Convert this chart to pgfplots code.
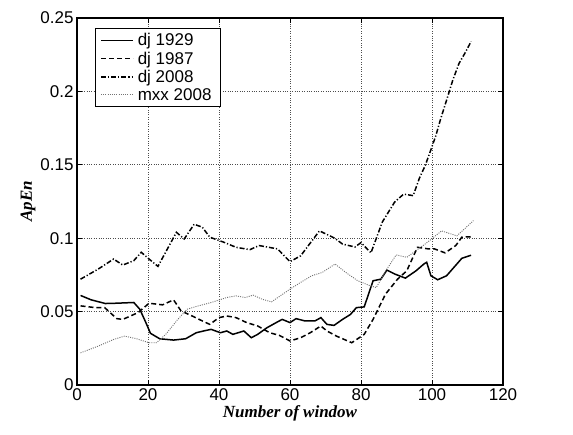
\documentclass[border=0pt]{standalone}
\usepackage{pgfplots}
\pgfplotsset{compat=1.18}
\usepackage{fontspec}
\setmainfont{Liberation Sans}
\newfontfamily\timesfont{Liberation Serif}
\begin{document}
\begin{tikzpicture}
\begin{axis}[
  scale only axis,
  width=426bp, height=367bp,
  xmin=0, xmax=120, ymin=0, ymax=0.25,
  xtick={0,20,...,120},
  ytick={0,0.05,0.1,0.15,0.2,0.25},
  yticklabels={0,0.05,0.1,0.15,0.2,0.25},
  /pgf/number format/assume math mode=true,
  tick align=inside,
  major tick length=5bp,
  tick style={black, line width=0.8bp},
  axis line style={black, line width=1.6bp},
  grid=major,
  major grid style={dotted, black!70, line width=0.6bp},
  ticklabel style={font=\fontsize{17bp}{19bp}\selectfont},
  yticklabel style={xshift=0bp},
  xticklabel style={yshift=-0.5bp},
  xlabel={\timesfont\bfseries\itshape\fontsize{17bp}{19bp}\selectfont Number of window},
  ylabel={\timesfont\bfseries\itshape\fontsize{17bp}{19bp}\selectfont ApEn},
  xlabel style={yshift=2.5bp},
  ylabel style={yshift=-2bp},
  legend style={at={(0.042,0.973)}, anchor=north west, draw=black, line width=0.8bp,
    font=\fontsize{17bp}{19bp}\selectfont, row sep=0bp, inner xsep=5bp, inner ysep=3bp,
    nodes={inner ysep=2.2bp, inner xsep=4bp}},
  legend cell align=left,
  legend image code/.code={\draw[#1] (0bp,0bp) -- (32bp,0bp);},
]
\addplot[black, line width=1.5bp] coordinates {
(1,0.0610) (4,0.058) (8,0.0555) (11,0.0557) (16,0.0562) (17.7,0.0516) (19.4,0.0425)
(20.7,0.0352) (23.3,0.0315) (27.2,0.0306) (30.6,0.0315) (33.6,0.0356) (36,0.0370)
(37.8,0.0379) (40.4,0.0356) (42.2,0.0368) (43.9,0.0345) (47,0.0368) (49.1,0.0322)
(50.9,0.0345) (53.5,0.039) (56.1,0.0425) (57.8,0.0447) (60,0.0425) (61.7,0.0452)
(64.3,0.0436) (67,0.0436) (68.7,0.0459) (70.4,0.0413) (72.4,0.0406) (74.8,0.0447)
(77,0.048) (78.7,0.0527) (80.9,0.0532) (82.6,0.0653) (83.4,0.071) (85.6,0.0721)
(87.3,0.0783) (89.5,0.0756) (92.5,0.0728) (95.5,0.0778) (97.7,0.0824) (98.5,0.0836)
(99.7,0.0744) (101.6,0.0717) (104.1,0.0744) (108.4,0.0863) (111,0.0884)
};
\addlegendentry{dj 1929}
\addplot[black, line width=1.5bp, dash pattern=on 5bp off 3bp] coordinates {
(1,0.0539) (5.2,0.0527) (7.8,0.0527) (11.2,0.0452) (12.9,0.0447) (17.2,0.0493)
(20.3,0.0557) (24.1,0.0546) (27.2,0.058) (29.3,0.0505) (32.8,0.0466) (35,0.0440)
(37.4,0.0413) (40,0.0459) (42.2,0.047) (44.8,0.0459) (47.8,0.0425) (50.9,0.0402)
(54.3,0.0356) (57,0.0338) (60,0.030) (63,0.0322) (65.7,0.0356) (68.7,0.0402)
(70.4,0.0368) (73.1,0.0333) (77.4,0.0288) (80.9,0.0345) (83.4,0.0447) (86.9,0.0619)
(90.3,0.0721) (92.9,0.0778) (95.9,0.0938) (99,0.0927) (100.7,0.0927) (103.7,0.090)
(106.7,0.095) (108.4,0.1007) (111,0.101)
};
\addlegendentry{dj 1987}
\addplot[black, line width=1.5bp, dash pattern=on 5bp off 2bp on 1.2bp off 2bp] coordinates {
(1,0.0721) (6,0.079) (10.3,0.0858) (12.9,0.0817) (16,0.0847) (18.1,0.0904)
(20.3,0.0858) (22.8,0.0808) (28,0.104) (30.2,0.0995) (33,0.1095) (35.3,0.1075)
(37.4,0.1007) (41.3,0.0973) (44.8,0.0938) (48.7,0.0922) (51.3,0.095) (56.5,0.0927)
(60,0.084) (63,0.088) (68.3,0.105) (72.6,0.100) (74.8,0.096) (78.3,0.094) (80,0.097)
(82.8,0.090) (86,0.111) (89.5,0.1247) (92,0.130) (94.7,0.129) (96.4,0.1406)
(98.1,0.1496) (99.8,0.161) (101.1,0.170) (102.4,0.181) (104.1,0.194) (105.9,0.208)
(107.6,0.219) (109.5,0.227) (111,0.234)
};
\addlegendentry{dj 2008}
\addplot[black!55, line width=0.9bp, dash pattern=on 1bp off 1.2bp] coordinates {
(1,0.0219) (6,0.0265) (10.3,0.031) (13.4,0.0333) (16.8,0.0315) (20.3,0.0288)
(22.4,0.0288) (25,0.0345) (28.4,0.0447) (31,0.0516) (33.6,0.0535) (37.8,0.0562)
(42.2,0.0596) (44.8,0.0607) (47.4,0.0596) (49.6,0.0612) (52.2,0.0584) (54.8,0.0566)
(57,0.0603) (60,0.0653) (63,0.0699) (66.1,0.0744) (69.1,0.0767) (72.7,0.0824)
(75.7,0.0767) (79.1,0.071) (82.6,0.0676) (84.3,0.0664) (87.3,0.079) (89.9,0.0886)
(92.9,0.087) (98.1,0.0961) (102.7,0.105) (107,0.1016) (111.7,0.112)
};
\addlegendentry{mxx 2008\hspace{6bp}}
\end{axis}
\path ([xshift=-77bp,yshift=-50bp]current axis.south west) rectangle ([xshift=70bp,yshift=18bp]current axis.north east);
\end{tikzpicture}
\end{document}
